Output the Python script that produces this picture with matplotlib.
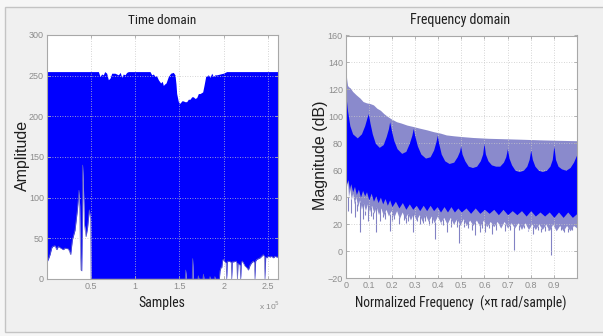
import matplotlib
matplotlib.use("Agg")
import matplotlib.pyplot as plt
import numpy as np
from matplotlib import font_manager
from matplotlib.font_manager import FontProperties
from matplotlib.patches import Rectangle

# ---------------- data ----------------
# Time domain: upper / lower envelope of the dense sample plot
td_upper_x = [0, 58300, 60200, 62000, 63900, 65500, 67700, 69600, 71500, 73400, 77100,
              80900, 83000, 84700, 86500, 88400, 90300, 92200, 116700, 118600, 120500,
              122300, 124000, 126100, 128700, 130500, 131700, 133500, 134800, 137400,
              140000, 143000, 144900, 146000, 146800, 148700, 150600, 152500, 154300,
              156000, 158100, 160000, 161900, 163800, 165600, 167500, 169400, 171300,
              173200, 176200, 177700, 179600, 182600, 184500, 186400, 188200, 190000,
              192000, 195800, 199500, 203300, 261300]
td_upper_y = [255, 255, 249, 252, 251, 255, 253, 245, 247, 253, 253,
              251, 254, 248, 252, 251, 254, 255, 255, 251, 252,
              249, 250, 245, 241, 243, 238, 240, 241, 249,
              253, 254, 251, 240, 228, 218, 216, 219, 219,
              218, 218, 221, 221, 224, 224, 222, 223, 228,
              228, 230, 238, 249, 251, 248, 253, 249, 251,
              251, 252, 253, 255, 255]

td_lower_x = [0, 2000, 3700, 5500, 6700, 9300, 11200, 13100, 15700, 18700, 20600,
              24400, 26000, 27000, 28900, 31900, 34600, 35800, 36400, 37200, 37600,
              38200, 38700, 39500, 40100, 40600, 41300, 42500, 44400, 46200, 47400,
              48100, 49600, 49800, 50000, 156400, 157000, 157600, 164300, 164900,
              165500, 170700, 171300, 171900, 176400, 177000, 177600, 183900, 184500,
              185100, 189400, 190000, 190600, 195000, 195800, 196800, 197700, 198800,
              199500, 201400, 202600, 203300, 204000, 205200, 207900, 208500, 209000,
              209600, 210800, 213900, 214700, 215400, 216100, 217200, 218400, 219100,
              219800, 221000, 224000, 226000, 227800, 229700, 231500, 233400, 234600,
              235300, 236000, 237200, 239000, 241000, 242900, 244700, 245800, 246600,
              247400, 248500, 250400, 252300, 254000, 256000, 258000, 259800, 261300]
td_lower_y = [20, 25, 30, 38, 40, 41, 36, 40, 38, 36, 38,
              37, 33, 30, 48, 60, 85, 100, 109, 90, 60,
              30, 11, 10, 60, 140, 120, 68, 52, 64, 78,
              85, 72, 40, 0, 0, 11, 0, 0, 25,
              0, 0, 4, 0, 0, 6, 0, 0, 3,
              0, 0, 3, 0, 0, 10, 14, 14, 23,
              24, 21, 20, 0, 21, 22, 21, 20, 0,
              21, 21, 22, 20, 0, 19, 18, 17, 0,
              20, 22, 16, 14, 11, 17, 20, 22, 20,
              0, 22, 24, 25, 26, 28, 30, 28, 0,
              27, 26, 28, 27, 28, 26, 28, 27, 27]

td_xticks = [50000, 100000, 150000, 200000, 250000]
td_xticklabels = ["0.5", "1", "1.5", "2", "2.5"]
td_yticks = [0, 50, 100, 150, 200, 250, 300]

# Frequency domain: envelopes of the magnitude response (dB)
fd_upper_f = [0, 0.004, 0.008, 0.012, 0.02, 0.03, 0.045, 0.062, 0.075, 0.09, 0.105,
              0.12, 0.135, 0.15, 0.165, 0.18, 0.2, 0.22, 0.24, 0.265, 0.29, 0.32,
              0.35, 0.38, 0.41, 0.435, 0.47, 0.507, 0.55, 0.617, 0.7, 0.76, 0.85,
              0.92, 1.0]
fd_upper_db = [136, 128, 123, 122, 121, 118.5, 116, 113.5, 111, 110, 109.5,
               108.5, 106, 104.5, 102, 100, 97.8, 96, 95, 93.5, 92.5, 91.2,
               90, 88.6, 87.5, 86.2, 85.5, 84.9, 84.3, 83.7, 83.3, 83, 82.5,
               82.2, 81.9]

fd_light_lower_f = [0, 0.004, 0.008, 0.012, 0.018, 0.024, 0.03, 0.037, 0.044, 0.052,
                    0.06, 0.068, 0.076, 0.085, 0.094, 0.103, 0.112, 0.122, 0.132, 0.142,
                    0.152, 0.163, 0.174, 0.185, 0.196, 0.208, 0.22, 0.232, 0.244, 0.256,
                    0.268, 0.28, 0.292, 0.305, 0.318, 0.331, 0.344, 0.357, 0.37, 0.383,
                    0.396, 0.41, 0.424, 0.438, 0.452, 0.466, 0.48, 0.494, 0.508, 0.522,
                    0.536, 0.55, 0.565, 0.58, 0.595, 0.61, 0.625, 0.64, 0.655, 0.67,
                    0.685, 0.7, 0.715, 0.73, 0.745, 0.76, 0.775, 0.79, 0.805, 0.82,
                    0.835, 0.85, 0.865, 0.88, 0.895, 0.91, 0.925, 0.94, 0.955, 0.97,
                    0.985, 1.0]
fd_light_lower_db = [65, 48, 52, 40, 46, 38, 43, 35, 40, 33,
                     38, 31, 36, 30, 35, 29, 34, 28, 33, 27,
                     32, 26, 31, 26, 30, 25, 30, 24, 29, 24,
                     28, 23, 28, 23, 27, 22, 27, 22, 26, 21,
                     26, 21, 25, 20, 25, 20, 24, 19, 24, 19,
                     23, 19, 23, 18, 23, 18, 22, 18, 22, 17,
                     22, 17, 21, 17, 21, 16, 21, 16, 20, 16,
                     20, 16, 20, 15, 20, 15, 19, 15, 19, 15,
                     19, 17]

fd_dark_f = [0.000, 0.008, 0.018, 0.030, 0.050, 0.068, 0.082, 0.092, 0.098, 0.105,
             0.115, 0.128, 0.145, 0.162, 0.175, 0.185, 0.190, 0.197, 0.208, 0.222,
             0.242, 0.260, 0.275, 0.286, 0.292, 0.298, 0.310, 0.325, 0.345, 0.365,
             0.380, 0.390, 0.396, 0.402, 0.413, 0.428, 0.447, 0.467, 0.482, 0.492,
             0.497, 0.503, 0.515, 0.530, 0.548, 0.566, 0.582, 0.592, 0.598, 0.604,
             0.615, 0.630, 0.648, 0.666, 0.682, 0.692, 0.699, 0.706, 0.717, 0.732,
             0.750, 0.768, 0.783, 0.793, 0.800, 0.807, 0.818, 0.833, 0.850, 0.868,
             0.883, 0.893, 0.900, 0.907, 0.918, 0.933, 0.952, 0.970, 0.985, 0.995, 1.000]
fd_dark_top = [117, 104, 93, 87, 84, 87, 93, 99, 102, 95,
               87, 80, 77, 79, 85, 91, 96, 90, 82, 76,
               72.5, 74, 80, 86, 91, 86, 78, 72, 69, 70,
               75, 81, 86, 80, 72, 67, 65, 66, 70, 74,
               78, 72, 67, 63, 62, 63, 67, 72, 80, 72,
               67, 64, 63, 63, 66, 70, 76, 69, 64, 60,
               59, 60, 63, 68, 75, 68, 63, 60, 59, 60,
               63, 68, 78, 68, 63, 61, 60, 62, 66, 70, 72]

fd_dark_bottom_f = [0, 0.004, 0.01, 0.016, 0.022, 0.03, 0.038, 0.046, 0.055, 0.064,
                    0.073, 0.082, 0.09, 0.1, 0.11, 0.12, 0.13, 0.14, 0.15, 0.16,
                    0.17, 0.18, 0.19, 0.2, 0.215, 0.23, 0.245, 0.26, 0.275, 0.29,
                    0.305, 0.32, 0.335, 0.35, 0.365, 0.38, 0.395, 0.41, 0.425, 0.44,
                    0.455, 0.47, 0.485, 0.5, 0.52, 0.54, 0.56, 0.58, 0.6, 0.62,
                    0.64, 0.66, 0.68, 0.7, 0.72, 0.74, 0.76, 0.78, 0.8, 0.82,
                    0.84, 0.86, 0.88, 0.9, 0.92, 0.94, 0.96, 0.98, 1.0]
fd_dark_bottom_db = [60, 50, 53, 46, 50, 44, 48, 42, 46, 40,
                     45, 41, 44, 38, 43, 37, 41, 36, 40, 35,
                     39, 34, 38, 33, 37, 32, 36, 31, 35, 31,
                     34, 30, 34, 30, 34, 30, 33, 29, 33, 29,
                     33, 29, 32, 29, 32, 28, 32, 28, 31, 28,
                     31, 27, 31, 27, 30, 27, 30, 26, 30, 26,
                     29, 26, 29, 25, 29, 25, 29, 25, 28]

fd_spike_f = [0.012, 0.025, 0.04, 0.05, 0.062, 0.075, 0.085, 0.095, 0.11, 0.12, 0.131,
              0.15, 0.16, 0.17, 0.19, 0.2, 0.21, 0.23, 0.25, 0.26, 0.27, 0.292, 0.31,
              0.321, 0.335, 0.345, 0.36, 0.372, 0.385, 0.41, 0.42, 0.436, 0.455, 0.47,
              0.48, 0.491, 0.51, 0.52, 0.53, 0.545, 0.56, 0.581, 0.59, 0.602, 0.62,
              0.631, 0.65, 0.67, 0.69, 0.71, 0.727, 0.75, 0.77, 0.79, 0.811, 0.83,
              0.845, 0.86, 0.875, 0.888, 0.91, 0.93, 0.945, 0.962, 0.98]
fd_spike_db = [30, 28, 25, 30, 14, 24, 27, 22, 26, 24, 14,
               22, 25, 24, 15, 22, 24, 20, 23, 21, 22, 14, 22,
               20, 21, 22, 19, 21, 9, 20, 19, 14, 18, 20,
               18, 6, 18, 19, 17, 16, 12, 14, 17, 14, 17,
               13, 16, 17, 15, 16, 1, 16, 17, 15, 13, 16,
               14, 15, 16, -3, 15, 16, 14, 14, 16]

fd_xticks = [0, 0.1, 0.2, 0.3, 0.4, 0.5, 0.6, 0.7, 0.8, 0.9]
fd_xticklabels = ["0", "0.1", "0.2", "0.3", "0.4", "0.5", "0.6", "0.7", "0.8", "0.9"]
fd_yticks = [-20, 0, 20, 40, 60, 80, 100, 120, 140, 160]

# ---------------- fonts ----------------
REG = "Liberation Sans"
cond_file = None
prefs = ["LiberationSansNarrow-Regular", "RobotoCondensed-Regular",
         "OpenSans_Condensed-Regular", "OpenSansCondensed-Regular",
         "DejaVuSansCondensed.ttf"]
files = [f.fname for f in font_manager.fontManager.ttflist]
for p in prefs:
    hits = [fn for fn in files if p in fn]
    if hits:
        cond_file = hits[0]
        break
plt.rcParams["font.family"] = [REG, "DejaVu Sans"]


def hfont(size):
    if cond_file:
        return FontProperties(fname=cond_file, size=size)
    return FontProperties(family=REG, size=size)


W, H = 603, 336
fig = plt.figure(figsize=(W / 100, H / 100), dpi=100, facecolor="#f6f6f6")
fig.patches.append(Rectangle((5 / W, 1 - 332 / H), 1.0, (332 - 7) / H,
                             transform=fig.transFigure, fc="#f0f0f0", ec="#c4c4c4",
                             lw=1.0, zorder=-10))


def rect(x0, y0, x1, y1):
    return [x0 / W, 1 - y1 / H, (x1 - x0) / W, (y1 - y0) / H]


BLUE = "#0000ff"
LIGHT = "#8a8acc"
SPIKE = "#8282c4"
TICKC = "#8c8c8c"


def style(ax):
    ax.set_facecolor("white")
    for s in ax.spines.values():
        s.set_color("#a8a8a8")
        s.set_linewidth(0.8)
    ax.tick_params(direction="in", length=2.5, width=0.6, colors="#a8a8a8",
                   labelcolor=TICKC, labelsize=6.5, pad=2,
                   top=True, right=True)
    ax.grid(True, linestyle=(0, (1, 2)), color="#c8c8c8", linewidth=0.6)


# ---- time domain ----
ax1 = fig.add_axes(rect(46.75, 35, 278, 279))
style(ax1)
ax1.fill_between(td_upper_x, td_upper_y, 0, color=BLUE, lw=0, zorder=1)
ax1.fill_between(td_lower_x, td_lower_y, 0, color="white", lw=0, zorder=1.5)
ax1.plot(td_lower_x, td_lower_y, color="#6464c0", lw=0.5, zorder=1.6)
ax1.set_xlim(0, 261300)
ax1.set_ylim(0, 300)
ax1.set_xticks(td_xticks)
ax1.set_xticklabels(td_xticklabels)
ax1.set_yticks(td_yticks)
for gl in ax1.get_xgridlines() + ax1.get_ygridlines():
    gl.set_zorder(0.5)

# ---- frequency domain ----
ax2 = fig.add_axes(rect(345.7, 35.5, 577, 278))
style(ax2)
fgrid = np.linspace(0, 1, 2001)
up = np.interp(fgrid, fd_upper_f, fd_upper_db)
lo = np.interp(fgrid, fd_light_lower_f, fd_light_lower_db)
ax2.fill_between(fgrid, lo, up, color=LIGHT, lw=0, zorder=1)
ax2.vlines(fd_spike_f, fd_spike_db, np.interp(fd_spike_f, fd_light_lower_f, fd_light_lower_db),
           color=SPIKE, lw=0.8, zorder=1.2)
dt = np.interp(fgrid, fd_dark_f, fd_dark_top)
db = np.interp(fgrid, fd_dark_bottom_f, fd_dark_bottom_db)
ax2.fill_between(fgrid, db, dt, color=BLUE, lw=0, zorder=2)
ax2.set_xlim(0, 1)
ax2.set_ylim(-20, 160)
ax2.set_xticks(fd_xticks)
ax2.set_xticklabels(fd_xticklabels)
ax2.set_yticks(fd_yticks)
for gl in ax2.get_xgridlines() + ax2.get_ygridlines():
    gl.set_zorder(0.5)

# ---- texts ----
TXT = "#1e1e1e"
htexts = [
    (161.7, 20, "Time domain", 67.7),
    (460.3, 20, "Frequency domain", 100.7),
    (161.7, 303, "Samples", 46.7),
    (460.8, 303.3, "Normalized Frequency  (\u00d7\u03c0 rad/sample)", 211.7),
]
made = []
for x, y, s, tw in htexts:
    t = fig.text(x / W, 1 - y / H, s, ha="center", va="center", color=TXT,
                 fontproperties=hfont(11))
    made.append((t, tw))
fig.text(22 / W, 1 - 155 / H, "Amplitude", ha="center", va="center", rotation=90,
         fontsize=11.5, color=TXT, family=[REG, "DejaVu Sans"])
fig.text(320 / W, 1 - 155 / H, "Magnitude (dB)", ha="center", va="center", rotation=90,
         fontsize=11.5, color=TXT, family=[REG, "DejaVu Sans"])
fig.text(270 / W, 1 - 306 / H, "x 10$^{5}$", ha="center", va="center",
         fontsize=6, color=TICKC)

# fit horizontal label widths to the reference
fig.canvas.draw()
r = fig.canvas.get_renderer()
for t, tw in made:
    w = t.get_window_extent(r).width
    t.set_fontsize(t.get_fontsize() * tw / w)

fig.savefig("out.png", dpi=100, facecolor=fig.get_facecolor())
